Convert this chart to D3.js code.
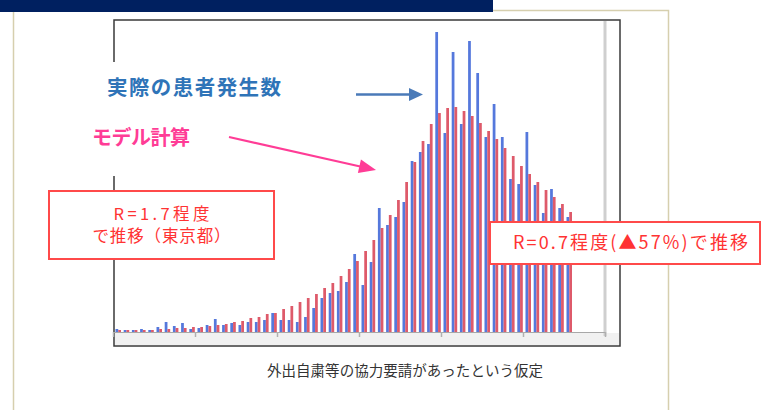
<!DOCTYPE html>
<html><head><meta charset="utf-8">
<script src="https://cdn.jsdelivr.net/npm/d3@7"></script>
<style>html,body{margin:0;padding:0;background:#fff;}svg{display:block;}</style>
</head><body>
<svg id="c" width="765" height="410"></svg>
<script>
// ---- data (arbitrary units = relative bar heights) ----
const days = d3.range(56);
const actual = [3,2,2,3,2,5,10,6,9,3,4,7,13,7,9,7,10,10,12,19,12,12,10,15,24,34,39,41,50,78,47,70,124,107,115,130,171,180,188,300,199,280,208,291,259,195,228,195,153,148,200,147,119,143,124,115];
const model  = [2,2,2,2,2,3,3,4,4,5,5,6,7,8,10,11,14,15,18,19,23,26,30,34,38,44,49,56,63,71,81,92,104,117,132,150,170,191,208,219,224,225,221,216,209,201,193,184,176,166,158,150,142,135,128,120];
const tickDays = [0,10,20,30,40,50,60];
const seriesNames = ["actual","model"];
const labelActual = "実際の患者発生数";
const labelModel = "モデル計算";
const boxLeft = ["R=1.7程度","で推移（東京都）"];
const boxRight = "R=0.7程度(▲57%)で推移";
const xTitle = "外出自粛等の協力要請があったという仮定";

const svg = d3.select("#c");
const JP = "'Noto Sans CJK JP','Noto Sans',sans-serif";

// slide decorations
svg.append("rect").attr("x",0).attr("y",0).attr("width",493).attr("height",12).attr("fill","#002060");
const beige = "#d6cfae";
svg.append("path").attr("d","M493,10.5H668.5V410").attr("fill","none").attr("stroke",beige).attr("stroke-width",1.5);
svg.append("path").attr("d","M13.5,12V410").attr("fill","none").attr("stroke",beige).attr("stroke-width",1.5);

// chart frame
const L=114, T=20, R=620, B=346;
svg.append("rect").attr("x",L+1).attr("y",333).attr("width",R-L-2).attr("height",B-334).attr("fill","#f1f1f1");
svg.append("rect").attr("x",L).attr("y",T).attr("width",R-L).attr("height",B-T)
  .attr("fill","none").attr("stroke","#3a3a3a").attr("stroke-width",1.5);
svg.append("line").attr("x1",605).attr("x2",605).attr("y1",T+1).attr("y2",336)
  .attr("stroke","#cfcfcf").attr("stroke-width",3);

// scales
const x = d3.scaleBand().domain(d3.range(60)).range([113,605]).paddingInner(0);
const xs = d3.scaleBand().domain(seriesNames).range([2.5,8.0]);
const y = d3.scaleLinear().domain([0,300]).range([332,32]);
const tickScale = d3.scaleLinear().domain([0,60]).range([113,605]);

// axis
const ax = svg.append("g").attr("transform","translate(0,332)")
  .call(d3.axisBottom(tickScale).tickValues(tickDays).tickFormat("").tickSize(5).tickSizeOuter(0));
ax.select(".domain").attr("stroke","#a8a8a8").attr("stroke-width",1.2);
ax.selectAll(".tick line").attr("stroke","#b0b0b0").attr("stroke-width",1.5);

// bars
const colors = {actual:"#5578dc", model:"#de5a6a"};
const data = [];
days.forEach(d=>{ data.push({d, s:"actual", v:actual[d]}); data.push({d, s:"model", v:model[d]}); });
svg.append("g").selectAll("rect").data(data).join("rect")
  .attr("x", o=>x(o.d)+xs(o.s))
  .attr("width", xs.bandwidth())
  .attr("y", o=>y(o.v))
  .attr("height", o=>y(0)-y(o.v))
  .attr("fill", o=>colors[o.s]);

// white area behind labels (hides frame line)
svg.append("rect").attr("x",100).attr("y",62).attr("width",200).attr("height",114).attr("fill","#fff");

svg.append("text").attr("x",107).attr("y",95).attr("font-family",JP).attr("font-weight","bold")
  .attr("font-size",20.5).attr("fill","#2f74b8").attr("textLength",174).text(labelActual);
svg.append("text").attr("x",92).attr("y",145).attr("font-family",JP).attr("font-weight","bold")
  .attr("font-size",20).attr("fill","#ff3c96").attr("textLength",98).text(labelModel);

// arrows
svg.append("line").attr("x1",356).attr("y1",94.5).attr("x2",411).attr("y2",94.5)
  .attr("stroke","#4a7ab8").attr("stroke-width",2.5);
svg.append("path").attr("d","M409,88L423,94.5L409,101Z").attr("fill","#4a7ab8");
(function(){
  const x1=229,y1=137,x2=376,y2=170;
  const ang=Math.atan2(y2-y1,x2-x1), len=17, hw=7;
  const bx=x2-len*Math.cos(ang), by=y2-len*Math.sin(ang);
  svg.append("line").attr("x1",x1).attr("y1",y1).attr("x2",bx+2*Math.cos(ang)).attr("y2",by+2*Math.sin(ang))
    .attr("stroke","#ff3c96").attr("stroke-width",2.2);
  const px=-Math.sin(ang), py=Math.cos(ang);
  svg.append("path").attr("d",`M${x2},${y2}L${bx+hw*px},${by+hw*py}L${bx-hw*px},${by-hw*py}Z`).attr("fill","#ff3c96");
})();

// left box
svg.append("rect").attr("x",49).attr("y",191).attr("width",225).attr("height",68)
  .attr("fill","#fff").attr("stroke","#ff4a4a").attr("stroke-width",2);
const lw = [96,138];
svg.append("g").selectAll("text").data(boxLeft).join("text")
  .attr("x",(d,i)=>161.5-lw[i]/2).attr("y",(d,i)=>220+i*22)
  .attr("font-family",JP).attr("font-size",16.5).attr("fill","#ff3333")
  .attr("textLength",(d,i)=>lw[i]).text(d=>d);

// right box
svg.append("rect").attr("x",490).attr("y",222).attr("width",270).attr("height",42)
  .attr("fill","#fff").attr("stroke","#ff4a4a").attr("stroke-width",2);
svg.append("text").attr("x",513).attr("y",249).attr("font-family",JP).attr("font-size",18)
  .attr("fill","#ff3333").attr("textLength",235).text(boxRight);

// x title
svg.append("text").attr("x",267).attr("y",376).attr("font-family",JP).attr("font-size",14.5)
  .attr("fill","#333").attr("textLength",276).text(xTitle);
</script>
</body></html>
